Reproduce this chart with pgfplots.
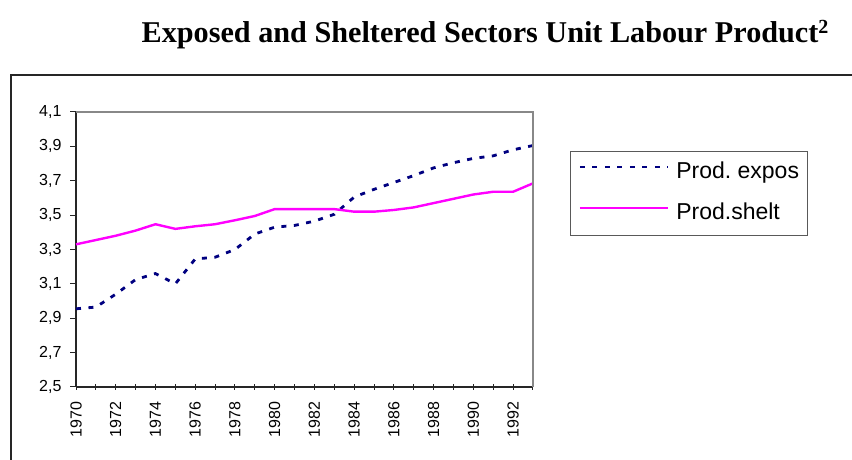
\documentclass[border=0pt]{standalone}
\usepackage{fontspec}
\setmainfont{Liberation Sans}
\newfontfamily\titlefont{Liberation Serif}
\usepackage{pgfplots}
\pgfplotsset{compat=1.18}
\definecolor{navy}{HTML}{000080}
\definecolor{magenta2}{HTML}{FF00FF}
\definecolor{framegray}{HTML}{888888}
\frenchspacing
\newcommand{\tl}{\fontsize{16}{18}\selectfont}
\begin{document}
\begin{tikzpicture}[x=1pt,y=1pt]
\useasboundingbox (0,0) rectangle (852,460);
% outer chart frame
\draw[line width=1.6pt,black!85] (11,-10) -- (11,385) -- (870,385);
% title
\node[anchor=base west,inner sep=0pt] at (141.5,417.7)
  {\titlefont\bfseries\fontsize{30.2}{32}\selectfont Exposed and Sheltered Sectors Unit Labour Product\textsuperscript{\bfseries\fontsize{20}{20}\selectfont 2}};
\begin{axis}[
  at={(76pt,73pt)}, anchor=south west,
  scale only axis, width=457pt, height=275pt,
  xmin=1970, xmax=1993, ymin=2.5, ymax=4.1,
  axis lines=left,
  axis line style={-, line width=1.2pt, black!85},
  xtick={1970,...,1993},
  xticklabels={{\tl 1970},,{\tl 1972},,{\tl 1974},,{\tl 1976},,{\tl 1978},,{\tl 1980},,{\tl 1982},,{\tl 1984},,{\tl 1986},,{\tl 1988},,{\tl 1990},,{\tl 1992},},
  ytick={2.5,2.7,...,4.15},
  yticklabels={{\tl 2,5},{\tl 2,7},{\tl 2,9},{\tl 3,1},{\tl 3,3},{\tl 3,5},{\tl 3,7},{\tl 3,9},{\tl 4,1}},
  xtick align=center, ytick align=outside,
  major tick length=6pt,
  tick style={line width=1pt, black!85},
  tick label style={font=\tl},
  /pgf/number format/assume math mode=true,
  xticklabel style={rotate=90, anchor=east, xshift=-8pt},
  yticklabel style={xshift=-5pt},
  legend style={at={(1.081,0.859)}, anchor=north west,
    draw=black!65, line width=1pt,
    font=\fontsize{23}{26}\selectfont,
    inner xsep=8pt, inner ysep=10.5pt, row sep=19pt,
    nodes={inner sep=0pt, text height=17pt, text depth=5pt}},
  legend cell align=left,
  legend image code/.code={\draw[#1] (0pt,5.7pt) -- (88pt,5.7pt);},
  clip=false,
]
\addplot[navy, line width=2.8pt, dash pattern=on 5pt off 7.5pt] coordinates {
(1970,2.955) (1971,2.965) (1972,3.04) (1973,3.125) (1974,3.16) (1975,3.10)
(1976,3.245) (1977,3.255) (1978,3.30) (1979,3.39) (1980,3.43) (1981,3.44)
(1982,3.465) (1983,3.505) (1984,3.605) (1985,3.65) (1986,3.69) (1987,3.73)
(1988,3.775) (1989,3.805) (1990,3.83) (1991,3.845) (1992,3.88) (1993,3.905)};
\addlegendentry{\hspace{7pt}Prod. expos}
\addplot[magenta2, line width=2.4pt] coordinates {
(1970,3.33) (1971,3.355) (1972,3.38) (1973,3.41) (1974,3.447) (1975,3.42)
(1976,3.435) (1977,3.447) (1978,3.47) (1979,3.495) (1980,3.535) (1981,3.535)
(1982,3.535) (1983,3.535) (1984,3.52) (1985,3.52) (1986,3.53) (1987,3.545)
(1988,3.57) (1989,3.595) (1990,3.62) (1991,3.636) (1992,3.636) (1993,3.685)};
\addlegendentry{\hspace{7pt}Prod.shelt}
\draw[framegray, line width=1.6pt] (rel axis cs:0,1) -- (rel axis cs:1,1) -- (rel axis cs:1,0);
\end{axis}
\end{tikzpicture}
\end{document}
